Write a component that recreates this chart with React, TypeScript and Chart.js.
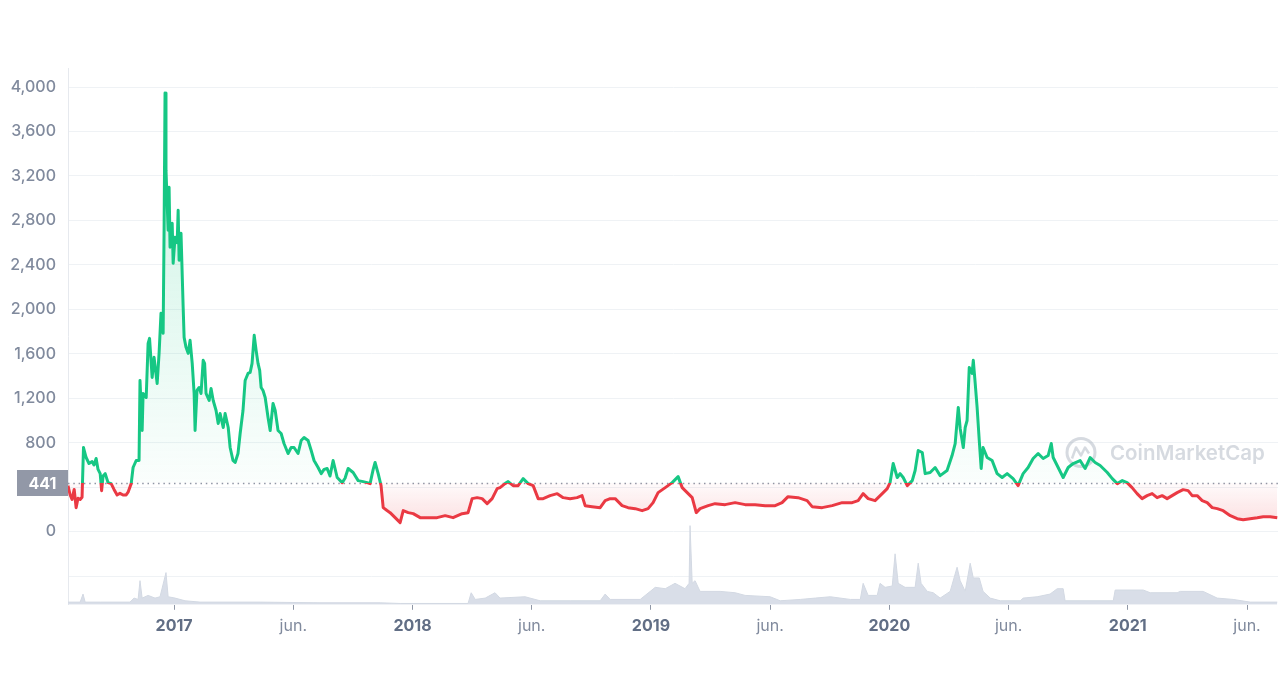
import { useEffect, useRef } from "react";
import { Chart, registerables } from "chart.js";

Chart.register(...registerables);

// ---------- data ----------
const BASELINE = 441;

const PRICE_DATES = [
  2016.555, 2016.564, 2016.572, 2016.581, 2016.589, 2016.597, 2016.606, 2016.614, 2016.620, 2016.631,
  2016.643, 2016.656, 2016.664, 2016.673, 2016.681, 2016.690, 2016.696, 2016.702, 2016.711, 2016.723,
  2016.736, 2016.748, 2016.761, 2016.773, 2016.786, 2016.799, 2016.807, 2016.820, 2016.828, 2016.841,
  2016.853, 2016.857, 2016.866, 2016.870, 2016.883, 2016.891, 2016.897, 2016.908, 2016.916, 2016.929,
  2016.937, 2016.945, 2016.954, 2016.958, 2016.962, 2016.966, 2016.975, 2016.979, 2016.983, 2016.992,
  2016.996, 2017.004, 2017.013, 2017.017, 2017.021, 2017.029, 2017.038, 2017.042, 2017.050, 2017.059,
  2017.067, 2017.076, 2017.084, 2017.088, 2017.096, 2017.105, 2017.113, 2017.122, 2017.128, 2017.134,
  2017.147, 2017.155, 2017.164, 2017.176, 2017.185, 2017.193, 2017.206, 2017.214, 2017.227, 2017.235,
  2017.247, 2017.256, 2017.268, 2017.277, 2017.289, 2017.298, 2017.310, 2017.319, 2017.327, 2017.336,
  2017.344, 2017.352, 2017.359, 2017.365, 2017.373, 2017.382, 2017.394, 2017.403, 2017.415, 2017.424,
  2017.436, 2017.449, 2017.461, 2017.478, 2017.491, 2017.503, 2017.520, 2017.533, 2017.545, 2017.562,
  2017.575, 2017.587, 2017.604, 2017.617, 2017.629, 2017.642, 2017.654, 2017.667, 2017.684, 2017.705,
  2017.717, 2017.730, 2017.751, 2017.772, 2017.793, 2017.810, 2017.822, 2017.835, 2017.843, 2017.856,
  2017.868, 2017.877, 2017.893, 2017.906, 2017.927, 2017.948, 2017.961, 2017.982, 2018.003, 2018.032,
  2018.074, 2018.103, 2018.137, 2018.170, 2018.208, 2018.233, 2018.250, 2018.271, 2018.292, 2018.313,
  2018.334, 2018.355, 2018.367, 2018.388, 2018.401, 2018.422, 2018.443, 2018.464, 2018.485, 2018.506,
  2018.527, 2018.548, 2018.577, 2018.607, 2018.632, 2018.661, 2018.690, 2018.711, 2018.724, 2018.753,
  2018.787, 2018.808, 2018.829, 2018.850, 2018.879, 2018.904, 2018.934, 2018.963, 2018.988, 2019.009,
  2019.030, 2019.060, 2019.089, 2019.114, 2019.131, 2019.152, 2019.173, 2019.190, 2019.206, 2019.240,
  2019.269, 2019.311, 2019.353, 2019.395, 2019.437, 2019.479, 2019.521, 2019.550, 2019.575, 2019.617,
  2019.655, 2019.676, 2019.718, 2019.760, 2019.802, 2019.844, 2019.869, 2019.890, 2019.911, 2019.940,
  2019.970, 2019.991, 2020.003, 2020.016, 2020.033, 2020.045, 2020.058, 2020.075, 2020.096, 2020.108,
  2020.121, 2020.138, 2020.150, 2020.171, 2020.192, 2020.213, 2020.242, 2020.263, 2020.276, 2020.289,
  2020.297, 2020.310, 2020.318, 2020.326, 2020.335, 2020.347, 2020.352, 2020.360, 2020.368, 2020.377,
  2020.385, 2020.393, 2020.410, 2020.431, 2020.452, 2020.473, 2020.494, 2020.519, 2020.540, 2020.561,
  2020.582, 2020.603, 2020.624, 2020.645, 2020.666, 2020.679, 2020.687, 2020.708, 2020.729, 2020.750,
  2020.771, 2020.800, 2020.821, 2020.842, 2020.863, 2020.884, 2020.914, 2020.935, 2020.956, 2020.977,
  2020.997, 2021.018, 2021.039, 2021.060, 2021.081, 2021.102, 2021.123, 2021.144, 2021.165, 2021.186,
  2021.207, 2021.232, 2021.253, 2021.270, 2021.291, 2021.312, 2021.333, 2021.354, 2021.375, 2021.400,
  2021.430, 2021.459, 2021.484, 2021.513, 2021.543, 2021.568, 2021.597, 2021.627,
];

const PRICE_VALUES = [
  414, 330, 290, 380, 216, 300, 290, 310, 757, 667,
  613, 630, 600, 658, 560, 522, 369, 500, 522, 441,
  432, 380, 330, 345, 330, 330, 355, 432, 577, 640,
  640, 1360, 910, 1243, 1207, 1694, 1739, 1387, 1568, 1333,
  1604, 1964, 1784, 2712, 3946, 3252, 2712, 3099, 2559, 2775,
  2414, 2649, 2600, 2892, 2441, 2685, 2018, 1748, 1658, 1604,
  1721, 1514, 1243, 910, 1270, 1297, 1243, 1541, 1514, 1243,
  1180, 1288, 1180, 1090, 973, 1063, 937, 1063, 937, 757,
  640, 622, 703, 883, 1090, 1360, 1423, 1432, 1514, 1766,
  1631, 1514, 1451, 1297, 1270, 1207, 1027, 910, 1153, 1090,
  910, 883, 793, 703, 757, 757, 703, 820, 847, 820,
  730, 640, 577, 522, 560, 568, 500, 640, 487, 441,
  480, 568, 532, 459, 450, 441, 432, 560, 622, 522,
  414, 216, 190, 171, 126, 81, 189, 171, 162, 126,
  126, 126, 144, 126, 162, 171, 297, 306, 297, 252,
  297, 387, 396, 432, 450, 414, 414, 477, 432, 414,
  297, 297, 324, 342, 306, 297, 306, 324, 234, 225,
  216, 279, 297, 297, 234, 216, 207, 189, 207, 261,
  351, 396, 441, 495, 396, 351, 306, 171, 207, 234,
  252, 243, 261, 243, 243, 234, 234, 261, 315, 306,
  279, 225, 216, 234, 261, 261, 279, 342, 297, 279,
  342, 387, 441, 613, 487, 522, 487, 414, 459, 550,
  730, 712, 522, 532, 577, 504, 550, 685, 793, 1117,
  928, 757, 937, 1000, 1477, 1423, 1541, 1333, 1117, 820,
  568, 757, 667, 640, 522, 487, 522, 477, 414, 522,
  577, 658, 703, 658, 685, 793, 667, 577, 487, 577,
  613, 640, 568, 667, 622, 595, 532, 477, 432, 459,
  441, 396, 342, 297, 324, 342, 306, 324, 297, 324,
  351, 378, 369, 324, 324, 279, 261, 216, 207, 189,
  144, 117, 108, 117, 126, 135, 135, 126,
];

const VOLUME_DATES = [
  2016.555, 2016.606, 2016.618, 2016.627, 2016.690, 2016.815, 2016.832, 2016.849, 2016.857, 2016.866,
  2016.891, 2016.920, 2016.941, 2016.966, 2016.975, 2017.004, 2017.046, 2017.109, 2017.361, 2017.612,
  2017.864, 2017.948, 2018.233, 2018.246, 2018.263, 2018.305, 2018.346, 2018.367, 2018.472, 2018.535,
  2018.661, 2018.787, 2018.808, 2018.829, 2018.955, 2019.018, 2019.060, 2019.101, 2019.143, 2019.160,
  2019.164, 2019.173, 2019.185, 2019.206, 2019.290, 2019.353, 2019.395, 2019.500, 2019.542, 2019.626,
  2019.689, 2019.752, 2019.836, 2019.878, 2019.890, 2019.911, 2019.949, 2019.961, 2019.982, 2020.012,
  2020.024, 2020.037, 2020.066, 2020.108, 2020.121, 2020.133, 2020.159, 2020.184, 2020.213, 2020.255,
  2020.284, 2020.297, 2020.318, 2020.339, 2020.352, 2020.377, 2020.393, 2020.423, 2020.465, 2020.549,
  2020.561, 2020.620, 2020.674, 2020.704, 2020.729, 2020.737, 2020.939, 2020.947, 2021.065, 2021.094,
  2021.207, 2021.220, 2021.316, 2021.375, 2021.442, 2021.513, 2021.627,
];

const VOLUME_VALUES = [
  2, 2, 8, 2, 2, 2, 5, 4, 18, 5,
  7, 5, 6, 24, 6, 5, 3, 2, 2, 1.5,
  1.5, 1, 1, 9, 4, 5, 9, 5, 6, 3,
  3, 3, 8, 4, 4, 13, 12, 16, 12, 16,
  59, 16, 18, 10, 10, 9, 7, 6, 3, 4,
  5, 6, 4, 4, 16, 7, 7, 16, 13, 14,
  38, 16, 13, 13, 31, 16, 10, 9, 5, 10,
  28, 18, 10, 31, 20, 20, 10, 5, 3, 3,
  5, 6, 8, 12, 12, 3, 3, 11, 11, 9,
  9, 10, 10, 5, 4, 2, 2,
];

const X_MIN = 2016.555;
const X_MAX = 2021.63;
const X_TICK_POSITIONS = [2017, 2017.5, 2018, 2018.5, 2019, 2019.5, 2020, 2020.5, 2021, 2021.5];
const X_TICK_LABELS = ["2017", "jun.", "2018", "jun.", "2019", "jun.", "2020", "jun.", "2021", "jun."];
const Y_MIN = -658;
const Y_MAX = 4171;
const Y_TICKS = [-400, 0, 400, 800, 1200, 1600, 2000, 2400, 2800, 3200, 3600, 4000];
const VOLUME_AXIS_MAX = 400;

// ---------- style ----------
const GREEN = "#16c784";
const RED = "#ea3943";
const FONT = "Inter";

const overlayPlugin = {
  id: "cmcOverlay",
  beforeDatasetsDraw(chart: any) {
    const { ctx, chartArea: a, scales } = chart;
    const yb = Math.round(scales.y.getPixelForValue(BASELINE)) + 0.5;
    ctx.save();
    // watermark
    const cx = a.right - 197;
    const cy = yb - 31;
    const wm = "rgba(165,173,187,0.45)";
    ctx.strokeStyle = wm;
    ctx.lineWidth = 3;
    ctx.beginPath();
    ctx.arc(cx, cy, 14, 0, Math.PI * 2);
    ctx.stroke();
    ctx.lineWidth = 2.5;
    ctx.lineJoin = "round";
    ctx.beginPath();
    ctx.moveTo(cx - 9, cy + 6);
    ctx.lineTo(cx - 5, cy - 5);
    ctx.lineTo(cx, cy + 3);
    ctx.lineTo(cx + 4, cy - 5);
    ctx.lineTo(cx + 8, cy + 1);
    ctx.stroke();
    ctx.fillStyle = wm;
    const text = "CoinMarketCap";
    ctx.font = `600 22px ${FONT}`;
    const w = ctx.measureText(text).width;
    const size = (22 * 155) / w;
    ctx.font = `600 ${size}px ${FONT}`;
    ctx.textBaseline = "middle";
    ctx.textAlign = "left";
    ctx.fillText(text, cx + 29, cy + 1);
    // dotted baseline
    ctx.strokeStyle = "#8f96a5";
    ctx.lineWidth = 1.5;
    ctx.setLineDash([1.5, 3.8]);
    ctx.beginPath();
    ctx.moveTo(a.left, yb);
    ctx.lineTo(a.right, yb);
    ctx.stroke();
    ctx.restore();
  },
  afterDraw(chart: any) {
    const { ctx, chartArea: a, scales } = chart;
    const yb = Math.round(scales.y.getPixelForValue(BASELINE));
    ctx.save();
    ctx.fillStyle = "#9298a7";
    ctx.fillRect(a.left - 51, yb - 13, 51, 26);
    ctx.fillStyle = "#ffffff";
    ctx.font = `bold 16px ${FONT}`;
    ctx.textAlign = "center";
    ctx.textBaseline = "middle";
    ctx.fillText(String(BASELINE), a.left - 25.5, yb + 1);
    ctx.restore();
  },
};

export default function App() {
  const ref = useRef<HTMLCanvasElement>(null);

  useEffect(() => {
    document.body.style.margin = "0";
    const canvas = ref.current;
    if (!canvas) return;

    const chart = new Chart(canvas, {
      type: "line",
      data: {
        datasets: [
          {
            label: "Price",
            data: PRICE_DATES.map((x, i) => ({ x, y: PRICE_VALUES[i] })),
            xAxisID: "x",
            yAxisID: "y",
            borderColor: GREEN,
            borderWidth: 3,
            borderJoinStyle: "round",
            pointRadius: 0,
            tension: 0,
            fill: { value: BASELINE },
            order: 0,
          } as any,
          {
            label: "Volume",
            data: VOLUME_DATES.map((x, i) => ({ x, y: VOLUME_VALUES[i] })),
            xAxisID: "x",
            yAxisID: "yv",
            borderColor: "#d3d9e3",
            backgroundColor: "#d9dee8",
            borderWidth: 1,
            pointRadius: 0,
            tension: 0,
            fill: "origin",
            order: 1,
          } as any,
        ],
      },
      options: {
        responsive: false,
        animation: false,
        devicePixelRatio: 1,
        layout: { padding: { top: 68, left: 8, right: 2, bottom: 37 } },
        plugins: {
          legend: { display: false },
          tooltip: { enabled: false },
        },
        scales: {
          x: {
            type: "linear",
            min: X_MIN,
            max: X_MAX,
            afterBuildTicks: (s: any) => {
              s.ticks = X_TICK_POSITIONS.map((v) => ({ value: v }));
            },
            ticks: {
              autoSkip: false,
              maxRotation: 0,
              padding: 7,
              callback: (v: any) => {
                const i = X_TICK_POSITIONS.indexOf(Number(v));
                return i >= 0 ? X_TICK_LABELS[i] : "";
              },
              color: (c: any) => (c.tick && Number.isInteger(c.tick.value) ? "#616e85" : "#808a9d"),
              font: (c: any) => ({
                family: FONT,
                size: 16,
                weight: c.tick && Number.isInteger(c.tick.value) ? "bold" : "normal",
              }),
            },
            grid: {
              drawOnChartArea: false,
              drawTicks: true,
              tickLength: 5,
              color: "#8f97a6",
            },
            border: { display: false },
          },
          y: {
            type: "linear",
            position: "left",
            min: Y_MIN,
            max: Y_MAX,
            afterBuildTicks: (s: any) => {
              s.ticks = Y_TICKS.map((v) => ({ value: v }));
            },
            afterFit: (s: any) => {
              s.width = 60;
            },
            ticks: {
              padding: 12,
              color: "#808a9d",
              font: { family: FONT, size: 16, weight: 500 },
              callback: (v: any) => (Number(v) < 0 ? "" : Number(v).toLocaleString("en-US")),
            },
            grid: { color: "#eff2f5", drawTicks: false },
            border: { display: true, color: "#e6e9ee" },
          },
          yv: {
            type: "linear",
            display: false,
            min: 0,
            max: VOLUME_AXIS_MAX,
          },
        },
      } as any,
      plugins: [overlayPlugin],
    });

    // gradients depend on the laid-out scales
    const { ctx, chartArea, scales } = chart as any;
    const yb = scales.y.getPixelForValue(BASELINE);
    const f = (yb - chartArea.top) / (chartArea.bottom - chartArea.top);
    const lineGrad = ctx.createLinearGradient(0, chartArea.top, 0, chartArea.bottom);
    lineGrad.addColorStop(0, GREEN);
    lineGrad.addColorStop(f, GREEN);
    lineGrad.addColorStop(f, RED);
    lineGrad.addColorStop(1, RED);
    const yTop = scales.y.getPixelForValue(Math.max(...PRICE_VALUES));
    const above = ctx.createLinearGradient(0, yTop, 0, yb);
    above.addColorStop(0, "rgba(22,199,132,0.24)");
    above.addColorStop(1, "rgba(22,199,132,0.02)");
    const yLow = scales.y.getPixelForValue(Math.min(...PRICE_VALUES));
    const below = ctx.createLinearGradient(0, yb, 0, yLow);
    below.addColorStop(0, "rgba(234,57,67,0.02)");
    below.addColorStop(1, "rgba(234,57,67,0.16)");
    const ds: any = chart.data.datasets[0];
    ds.borderColor = lineGrad;
    ds.fill = { value: BASELINE, above, below };
    chart.update();

    return () => chart.destroy();
  }, []);

  return (
    <canvas
      ref={ref}
      width={1280}
      height={680}
      style={{ display: "block", width: 1280, height: 680 }}
    />
  );
}
